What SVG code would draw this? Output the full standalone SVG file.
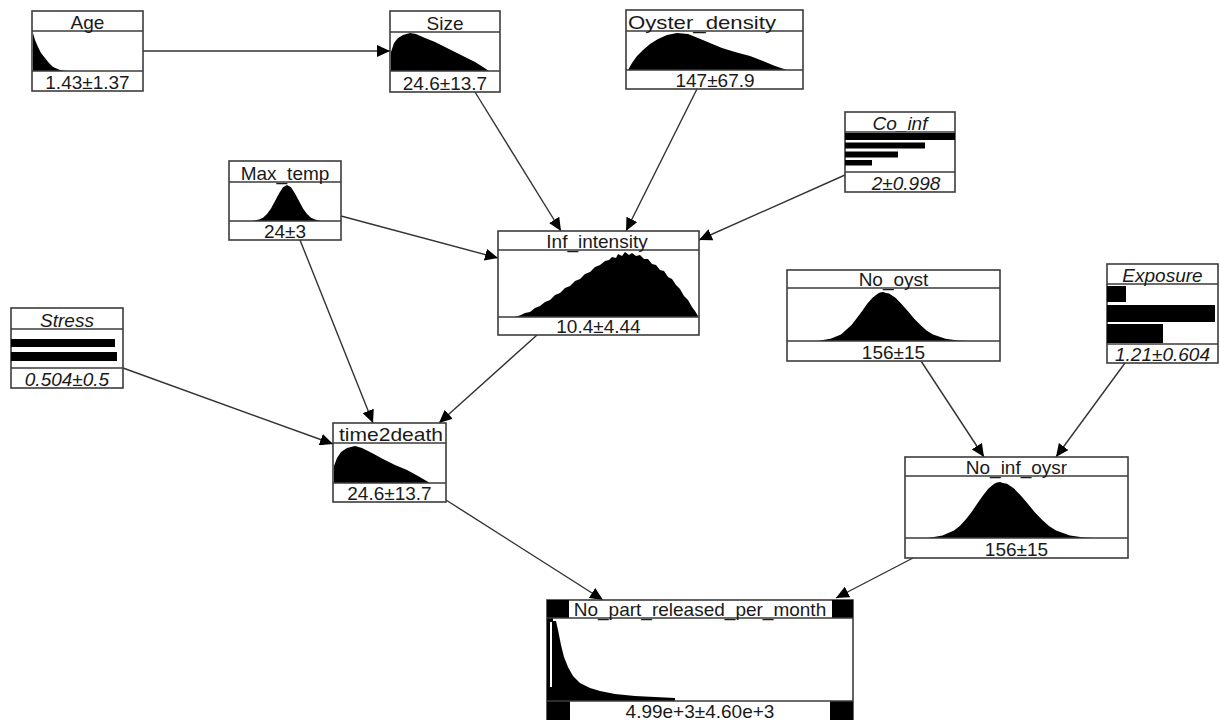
<svg xmlns="http://www.w3.org/2000/svg" width="1220" height="720" viewBox="0 0 1220 720">
<defs>
<style>
.box{fill:#fff;stroke:#3c3c3c;stroke-width:1.6}
.dv{stroke:#3c3c3c;stroke-width:1.6;fill:none}
.h{fill:#000;stroke:none}
.t{font-family:"Liberation Sans",Arial,sans-serif;font-size:19px;fill:#1a1a1a;text-anchor:middle}
.i{font-style:italic}
.e{stroke:#333;stroke-width:1.4;fill:none;marker-end:url(#ah)}
</style>
<marker id="ah" markerUnits="userSpaceOnUse" markerWidth="14" markerHeight="12" refX="13" refY="6" orient="auto">
<path d="M0,0 L13,6 L0,12 z" fill="#000"/>
</marker>
</defs>
<rect width="1220" height="720" fill="#fff"/>

<g id="connectors">
<path class="e" d="M143,51 L390,51"/>
<path class="e" d="M475,92 L561,231"/>
<path class="e" d="M697,89 L626,231"/>
<path class="e" d="M845,175 L699,240"/>
<path class="e" d="M341,216 L498,258"/>
<path class="e" d="M300,240 L373,423"/>
<path class="e" d="M123,368 L333,444"/>
<path class="e" d="M537,335 L439,423"/>
<path class="e" d="M446,500 L603,600"/>
<path class="e" d="M913,558 L836,598"/>
<path class="e" d="M921,361 L984,457"/>
<path class="e" d="M1125,363 L1056,457"/>
</g>

<g id="Age">
<rect class="box" x="32" y="11" width="111" height="80"/>
<path class="h" d="M33,71 L33,33 L35,40 L38,47 L41,53 L45,58 L49,63 L53,67 L60,70 L67,71 z"/>
<path class="dv" d="M32,31 H143 M32,71 H143"/>
<text class="t" x="87.5" y="29">Age</text>
<text class="t" x="87.5" y="89">1.43±1.37</text>
</g>

<g id="Size">
<rect class="box" x="390" y="11" width="110" height="81"/>
<path class="h" d="M391,71 L391,52 L394,43 L398,38 L403,35 L410,33 L416,34 L425,38 L435,42 L445,47 L455,52 L465,57 L475,62 L483,67 L489,71 z"/>
<path class="dv" d="M390,32 H500 M390,71 H500"/>
<text class="t" x="445" y="30">Size</text>
<text class="t" x="445" y="90">24.6±13.7</text>
</g>

<g id="Oyster_density">
<rect class="box" x="626" y="10" width="177" height="79"/>
<path class="h" d="M628,70 L632,63 L637,56 L643,50 L650,44 L658,39 L667,35 L677,33 L688,34 L698,38 L710,43 L722,48 L735,52 L750,56 L763,61 L775,66 L787,70 z"/>
<path class="dv" d="M626,31 H803 M626,70 H803"/>
<text class="t" x="702" y="29" textLength="148" lengthAdjust="spacingAndGlyphs">Oyster_density</text>
<text class="t" x="715" y="87">147±67.9</text>
</g>

<g id="Co_inf">
<rect class="box" x="845" y="112" width="110" height="80"/>
<rect class="h" x="845" y="133" width="110" height="7"/>
<rect class="h" x="845" y="142.5" width="80" height="6"/>
<rect class="h" x="845" y="151.5" width="53" height="6"/>
<rect class="h" x="845" y="160" width="27" height="5.5"/>
<path class="dv" d="M845,132 H955 M845,172 H955"/>
<text class="t i" x="900" y="130">Co_inf</text>
<text class="t i" x="906" y="190">2±0.998</text>
</g>

<g id="Max_temp">
<rect class="box" x="229" y="161" width="112" height="79"/>
<path class="h" d="M252,221 L259,219.6 L263,217.7 L267,214.1 L271,208.5 L275,201.1 L279,193.4 L283,187.3 L287,185 L291,187.3 L295,193.4 L299,201.1 L303,208.5 L307,214.1 L311,217.7 L315,219.6 L321,221 z"/>
<path class="dv" d="M229,182 H341 M229,221 H341"/>
<text class="t" x="285" y="180">Max_temp</text>
<text class="t" x="285" y="238">24±3</text>
</g>

<g id="Inf_intensity">
<rect class="box" x="498" y="231" width="201" height="104"/>
<path class="h" d="M515,317 L521,315 L525,313 L530,312 L535,308 L540,306 L545,302 L550,300 L555,295 L560,293 L565,288 L570,286 L575,281 L580,279 L585,274 L590,272 L595,267 L600,265 L605,261 L609,260 L612,257 L616,258 L618,254 L622,256 L625,252 L629,255 L632,253 L636,256 L640,255 L644,259 L648,259 L652,264 L656,265 L660,270 L664,271 L668,277 L672,279 L676,285 L680,289 L684,296 L688,300 L692,307 L695,311 L698,316 L698,317 z"/>
<path class="dv" d="M498,250 H699 M498,317 H699"/>
<text class="t" x="597" y="248">Inf_intensity</text>
<text class="t" x="598.5" y="333">10.4±4.44</text>
</g>

<g id="Stress">
<rect class="box" x="11" y="308" width="112" height="80"/>
<rect class="h" x="11" y="339" width="104" height="8"/>
<rect class="h" x="11" y="352" width="106" height="9"/>
<path class="dv" d="M11,329 H123 M11,368 H123"/>
<text class="t i" x="67" y="327">Stress</text>
<text class="t i" x="67" y="386">0.504±0.5</text>
</g>

<g id="time2death">
<rect class="box" x="333" y="423" width="113" height="79"/>
<path class="h" d="M334,483 L334,466 L337,458 L341,452 L347,448 L355,446 L362,448 L372,453 L383,459 L395,465 L407,470 L418,476 L430,483 z"/>
<path class="dv" d="M333,443 H446 M333,483 H446"/>
<text class="t" x="391" y="441" textLength="104" lengthAdjust="spacingAndGlyphs">time2death</text>
<text class="t" x="389.5" y="500">24.6±13.7</text>
</g>

<g id="No_oyst">
<rect class="box" x="787" y="270" width="213" height="91"/>
<path class="h" d="M818,341 L820,340.5 L830.5,338.8 L841,334.4 L851.5,325.1 L856.5,318.6 L862,311.3 L867,304 L872.5,297.8 L878,293.5 L880,292.5 L883,292 L886,293 L889,293.5 L895.5,297.8 L901.5,304 L908,311.3 L914,318.6 L920.5,325.1 L926.5,330.4 L933,334.4 L945.5,338.8 L958,340.5 L970,341 z"/>
<path class="dv" d="M787,288 H1000 M787,341 H1000"/>
<text class="t" x="893.5" y="286">No_oyst</text>
<text class="t" x="893.5" y="359">156±15</text>
</g>

<g id="Exposure">
<rect class="box" x="1107" y="264" width="111" height="99"/>
<rect class="h" x="1107" y="286" width="19" height="16"/>
<rect class="h" x="1107" y="305" width="108" height="17"/>
<rect class="h" x="1107" y="324" width="56" height="19"/>
<path class="dv" d="M1107,284 H1218 M1107,344 H1218"/>
<text class="t i" x="1162.5" y="282">Exposure</text>
<text class="t i" x="1162.5" y="361">1.21±0.604</text>
</g>

<g id="No_inf_oysr">
<rect class="box" x="905" y="457" width="223" height="101"/>
<path class="h" d="M927,538 L931,537.4 L942.5,535.5 L954,530.4 L959.75,525.9 L965.5,519.8 L971.25,512.4 L977,504 L982.75,495.7 L988.5,488.6 L994.25,483.7 L997,482.5 L1000,482 L1003,483 L1007,483.7 L1014,488.6 L1021,495.7 L1028,504 L1035,512.4 L1042,519.8 L1049,525.9 L1056,530.4 L1070,535.5 L1084,537.4 L1095,538 z"/>
<path class="dv" d="M905,476 H1128 M905,538 H1128"/>
<text class="t" x="1016.5" y="474">No_inf_oysr</text>
<text class="t" x="1016.5" y="556">156±15</text>
</g>

<g id="No_part_released_per_month">
<rect class="box" x="547" y="600" width="306" height="130"/>
<path class="h" d="M553,701 L553,621 L556,621 L558,630 L561,645 L564,657 L568,667 L573,676 L580,683 L590,688 L600,691 L615,694 L635,696 L655,697 L675,698 L675,701 z"/>
<rect class="h" x="547" y="618" width="6" height="102"/>
<rect fill="#fff" x="550" y="622" width="2" height="65"/>
<rect class="h" x="547" y="600" width="22" height="18"/>
<rect class="h" x="832" y="600" width="21" height="18"/>
<rect class="h" x="547" y="701" width="23" height="19"/>
<rect class="h" x="830" y="701" width="23" height="19"/>
<path class="dv" d="M547,618 H853 M547,701 H853"/>
<text class="t" x="700" y="616">No_part_released_per_month</text>
<text class="t" x="700" y="718">4.99e+3±4.60e+3</text>
</g>
</svg>
